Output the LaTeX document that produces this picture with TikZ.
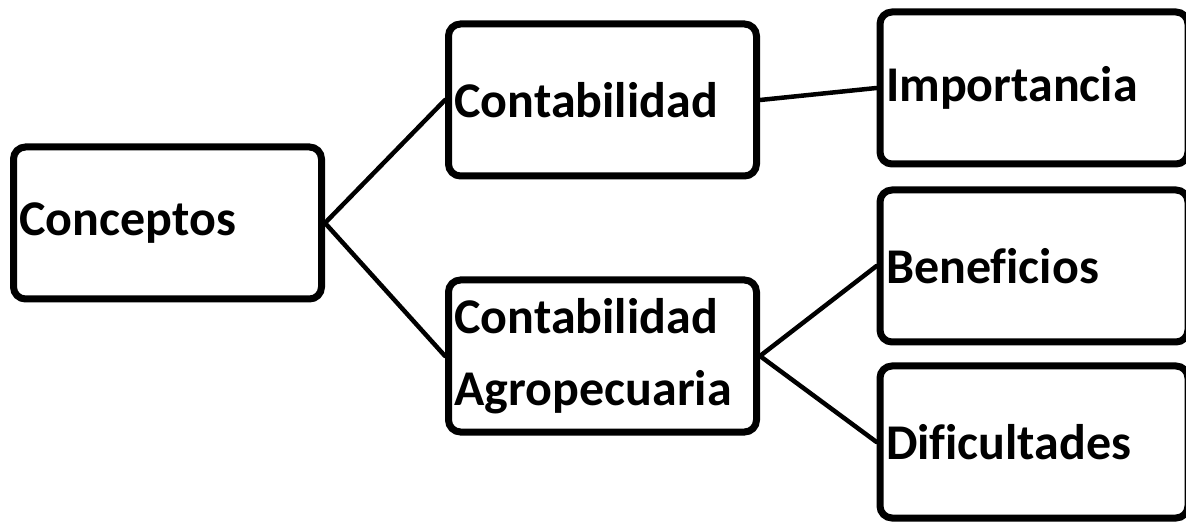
\documentclass[tikz,border=0pt]{standalone}
\usepackage{fontspec}
\setmainfont{Carlito}[Ligatures=NoCommon]
\usepackage{xcolor}
\usepackage{tikz}
\usetikzlibrary{shadows}
\definecolor{ink}{HTML}{000000}
\tikzset{
  box/.style={draw=ink, fill=white, line width=7pt, rounded corners=12pt,
    minimum width=308pt, minimum height=152pt, inner xsep=6pt,
    text width=296pt, align=left, font=\fontsize{50}{72}\selectfont\bfseries,
    drop shadow={opacity=0.25, shadow xshift=2pt, shadow yshift=-3pt}},
  link/.style={draw=ink, line width=4.5pt, line cap=round},
}
\begin{document}
\begin{tikzpicture}[x=1pt, y=-1pt]
  \useasboundingbox (0,0) rectangle (1186,526);

  % left column
  \node[box] (conceptos) at (167.5,223) {Conceptos};

  % middle column
  \node[box] (contab) at (602.5,100) {Contabilidad};
  \node[box] (agro)   at (602.5,356) {Contabilidad\\Agropecuaria};

  % right column (cut off at the page edge)
  \node[box] (importancia)  at (1034,88)  {Importancia};
  \node[box] (beneficios)   at (1034,266) {Beneficios};
  \node[box] (dificultades) at (1034,442) {Dificultades};

  \draw[link] (conceptos.east) -- (contab.west);
  \draw[link] (conceptos.east) -- (agro.west);
  \draw[link] (contab.east) -- (importancia.west);
  \draw[link] (agro.east) -- (beneficios.west);
  \draw[link] (agro.east) -- (dificultades.west);
\end{tikzpicture}
\end{document}
